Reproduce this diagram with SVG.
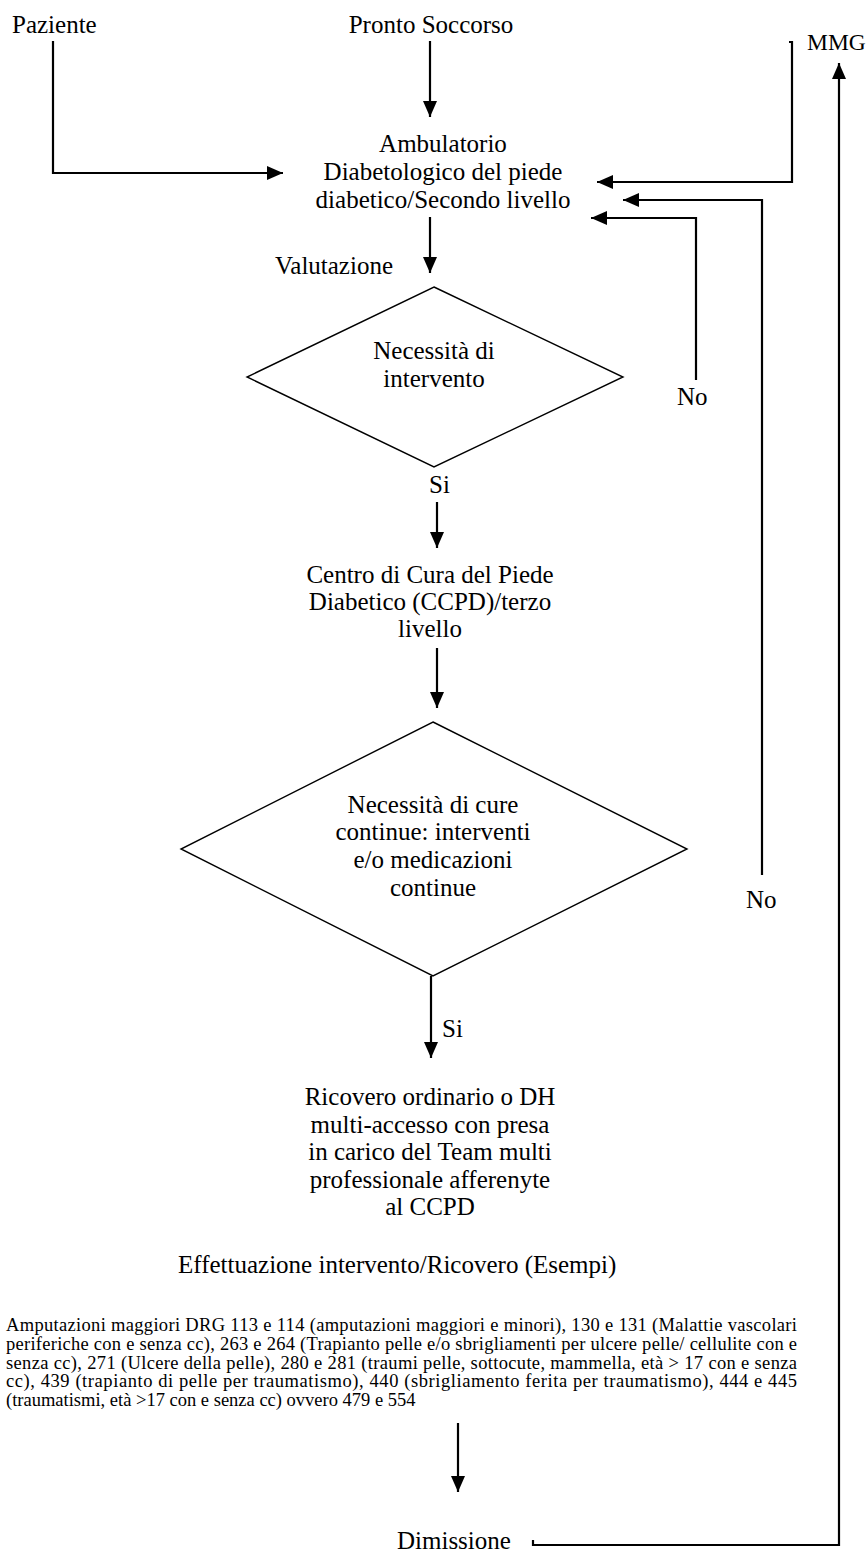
<svg xmlns="http://www.w3.org/2000/svg" width="867" height="1553" viewBox="0 0 867 1553">
  <style>
    .lbl { font-family: "Liberation Serif", "Times New Roman", serif; font-size: 25px; fill: #000; }
    .mid { text-anchor: middle; }
    .para { font-family: "Liberation Serif", "Times New Roman", serif; font-size: 18.5px; fill: #000; }
    .shape { fill: none; stroke: #000; stroke-width: 1.4; }
    .conn { fill: none; stroke: #000; stroke-width: 2.2; }
  </style>
  <defs>
    <marker id="arrow" viewBox="0 0 16 14" refX="16" refY="7" markerWidth="16" markerHeight="14" markerUnits="userSpaceOnUse" orient="auto">
      <path d="M0,0 L16,7 L0,14 Z" fill="#000"/>
    </marker>
  </defs>

  <rect width="867" height="1553" fill="#fff"/>

  <!-- sources -->
  <g id="paziente"><text class="lbl" x="12" y="33">Paziente</text></g>
  <g id="pronto-soccorso"><text class="lbl mid" x="431" y="33">Pronto Soccorso</text></g>
  <g id="mmg"><text class="lbl" x="807" y="50" style="font-size:23.5px">MMG</text></g>

  <!-- second level outpatient clinic -->
  <g id="ambulatorio">
    <text class="lbl mid" x="443" y="152">Ambulatorio</text>
    <text class="lbl mid" x="443" y="180">Diabetologico del piede</text>
    <text class="lbl mid" x="443" y="208">diabetico/Secondo livello</text>
  </g>

  <g id="valutazione"><text class="lbl" x="275" y="274">Valutazione</text></g>

  <!-- decision: surgery needed -->
  <g id="decisione-intervento">
    <polygon class="shape" points="434,287 623,377 434,467 247,377"/>
    <text class="lbl mid" x="434" y="359">Necessità di</text>
    <text class="lbl mid" x="434" y="387">intervento</text>
  </g>

  <!-- third level centre -->
  <g id="ccpd">
    <text class="lbl mid" x="430" y="583">Centro di Cura del Piede</text>
    <text class="lbl mid" x="430" y="610">Diabetico (CCPD)/terzo</text>
    <text class="lbl mid" x="430" y="637">livello</text>
  </g>

  <!-- decision: continuous care -->
  <g id="decisione-cure">
    <polygon class="shape" points="433,722 687,849 433,976 181,849"/>
    <text class="lbl mid" x="433" y="813">Necessità di cure</text>
    <text class="lbl mid" x="433" y="840">continue: interventi</text>
    <text class="lbl mid" x="433" y="868">e/o medicazioni</text>
    <text class="lbl mid" x="433" y="896">continue</text>
  </g>

  <!-- admission -->
  <g id="ricovero">
    <text class="lbl mid" x="430" y="1105">Ricovero ordinario o DH</text>
    <text class="lbl mid" x="430" y="1133">multi-accesso con presa</text>
    <text class="lbl mid" x="430" y="1160">in carico del Team multi</text>
    <text class="lbl mid" x="430" y="1188">professionale afferenyte</text>
    <text class="lbl mid" x="430" y="1215">al CCPD</text>
  </g>

  <g id="effettuazione">
    <text class="lbl" x="178" y="1273">Effettuazione intervento/Ricovero (Esempi)</text>
  </g>

  <!-- DRG examples -->
  <g id="esempi-drg">
    <text class="para" x="6" y="1331" textLength="791" lengthAdjust="spacing">Amputazioni maggiori DRG 113 e 114 (amputazioni maggiori e minori), 130 e 131 (Malattie vascolari</text>
    <text class="para" x="6" y="1350" textLength="791" lengthAdjust="spacing">periferiche con e senza cc), 263 e 264 (Trapianto pelle e/o sbrigliamenti per ulcere pelle/ cellulite con e</text>
    <text class="para" x="6" y="1368.5" textLength="791" lengthAdjust="spacing">senza cc), 271 (Ulcere della pelle), 280 e 281 (traumi pelle, sottocute, mammella, età &gt; 17 con e senza</text>
    <text class="para" x="6" y="1387" textLength="791" lengthAdjust="spacing">cc), 439 (trapianto di pelle per traumatismo), 440 (sbrigliamento ferita per traumatismo), 444 e 445</text>
    <text class="para" x="6" y="1405.5">(traumatismi, età &gt;17 con e senza cc) ovvero 479 e 554</text>
  </g>

  <g id="dimissione"><text class="lbl" x="397" y="1549">Dimissione</text></g>

  <!-- connectors -->
  <g id="connectors">
    <path class="conn" d="M53,41 V173 H283" marker-end="url(#arrow)"/>
    <path class="conn" d="M430,41 V117" marker-end="url(#arrow)"/>
    <path class="conn" d="M789,42 H792 V182 H597" marker-end="url(#arrow)"/>
    <path class="conn" d="M762,875 V200 H623" marker-end="url(#arrow)"/>
    <path class="conn" d="M696,380 V218 H591" marker-end="url(#arrow)"/>
    <path class="conn" d="M430,217 V273" marker-end="url(#arrow)"/>
    <path class="conn" d="M437,502 V548" marker-end="url(#arrow)"/>
    <path class="conn" d="M437,648 V708" marker-end="url(#arrow)"/>
    <path class="conn" d="M431,976 V1058" marker-end="url(#arrow)"/>
    <path class="conn" d="M458,1423 V1492" marker-end="url(#arrow)"/>
    <path class="conn" d="M533,1540 V1545 H839 V63" marker-end="url(#arrow)"/>
    <text class="lbl" x="677" y="405">No</text>
    <text class="lbl" x="746" y="908">No</text>
    <text class="lbl" x="429" y="493">Si</text>
    <text class="lbl" x="442" y="1037">Si</text>
  </g>
</svg>
